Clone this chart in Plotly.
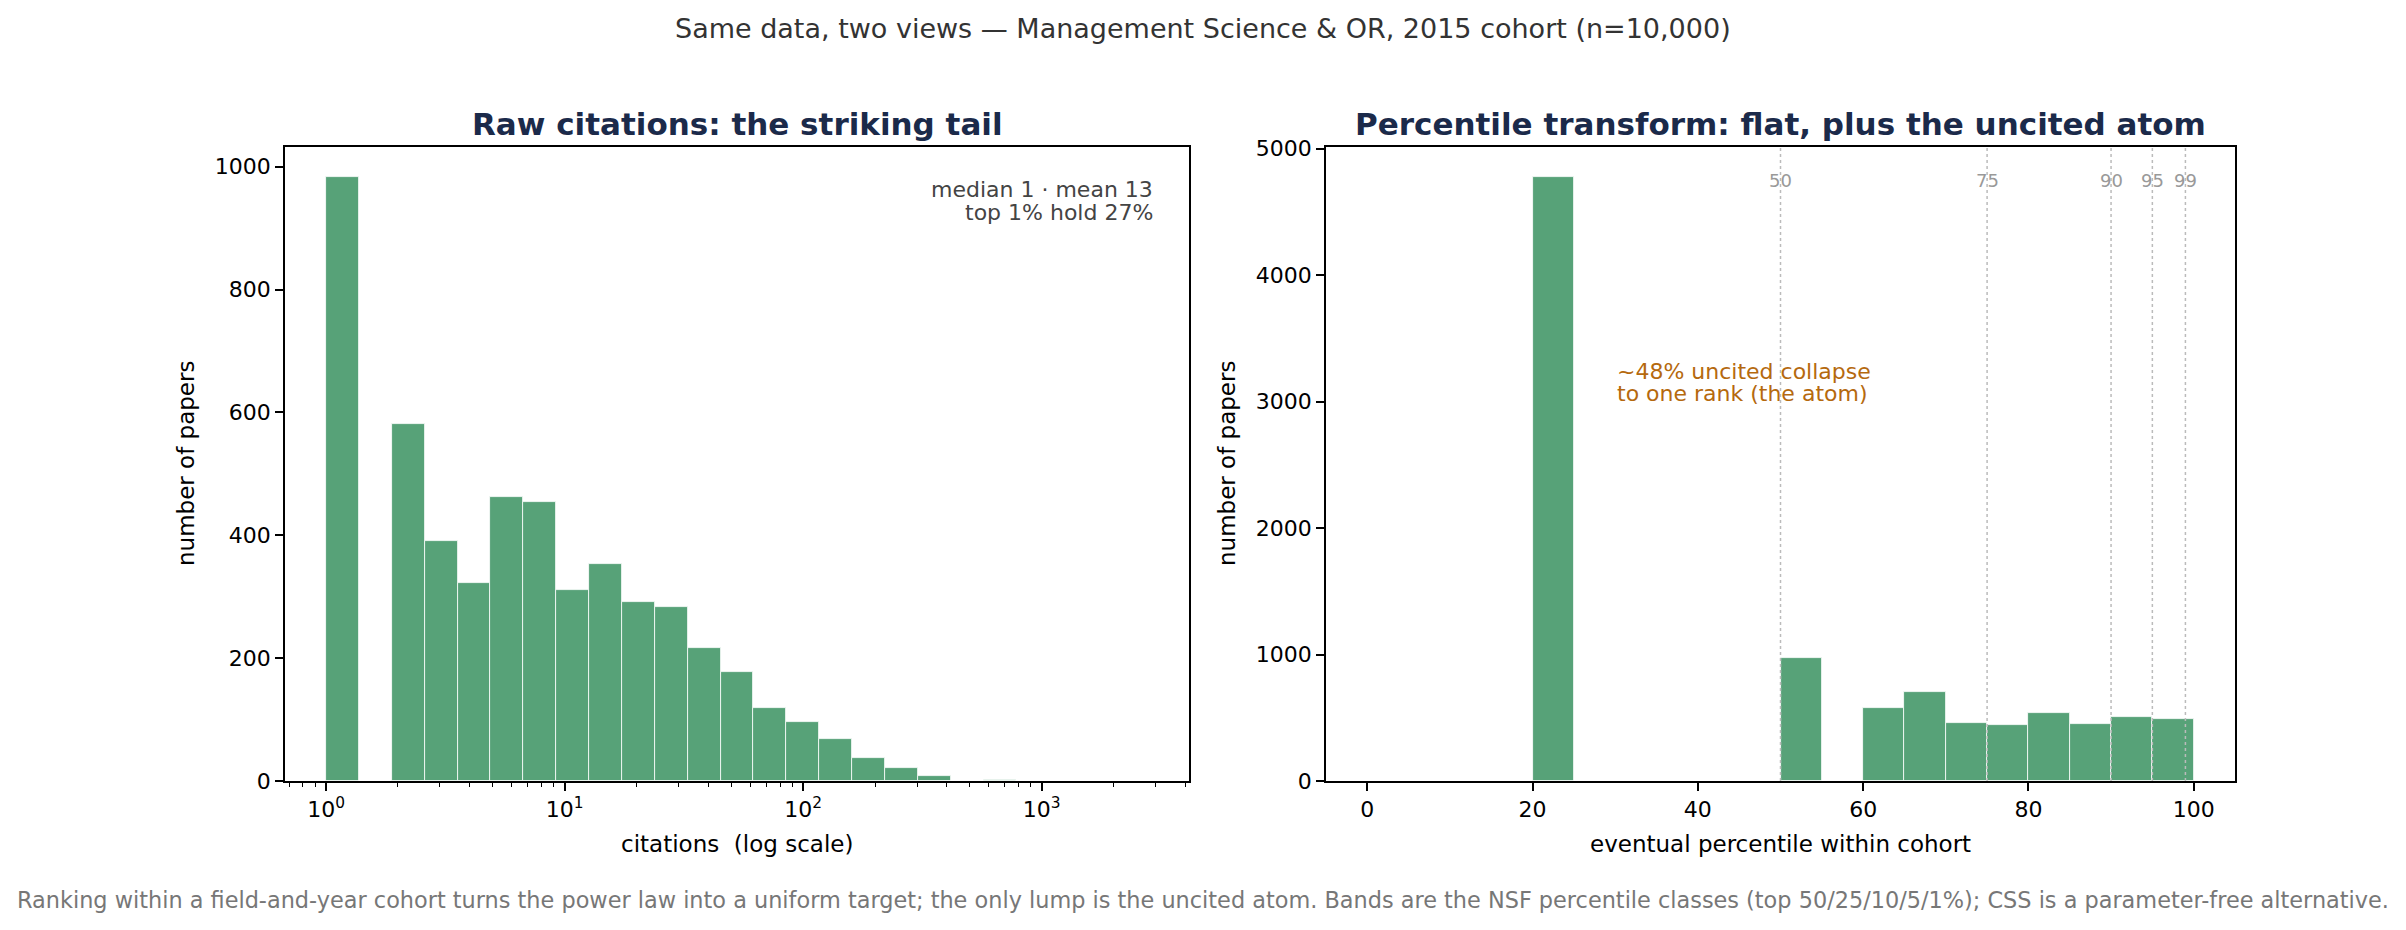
import numpy as np
import plotly.graph_objects as go

# ---------------- data ----------------
# left: citation histogram, 25 log-spaced bins from 1 to max citations
max_citations = 2786
n_log_bins = 25
raw_counts = [983, 0, 581, 390, 323, 462, 454, 311, 354, 292, 284, 217, 177,
              119, 96, 68, 37, 21, 8, 0, 2, 0, 0, 0, 0]

# right: percentile histogram, bins of 5 percentile points
pct_bin_edges = list(range(0, 105, 5))
pct_counts = [0, 0, 0, 0, 4775, 0, 0, 0, 0, 0, 975, 0, 577, 704, 457, 441,
              537, 451, 507, 491]

band_percentiles = [50, 75, 90, 95, 99]
band_labels = ["50", "75", "90", "95", "99"]

left_major_ticks = [0, 1, 2, 3]
left_major_labels = ["10<sup>0</sup>", "10<sup>1</sup>", "10<sup>2</sup>", "10<sup>3</sup>"]

suptitle = "Same data, two views — Management Science & OR, 2015 cohort (n=10,000)"
left_title = "Raw citations: the striking tail"
right_title = "Percentile transform: flat, plus the uncited atom"
left_note_lines = ["median 1 · mean 13", "top 1% hold 27%"]
right_note_lines = ["~48% uncited collapse", "to one rank (the atom)"]
footer = ("Ranking within a field-and-year cohort turns the power law into a uniform target; "
          "the only lump is the uncited atom. Bands are the NSF percentile classes "
          "(top 50/25/10/5/1%); CSS is a parameter-free alternative.")

# ---------------- derived ----------------
log_edges = np.linspace(0, np.log10(max_citations), n_log_bins + 1)
log_centers = (log_edges[:-1] + log_edges[1:]) / 2
log_widths = np.diff(log_edges)
pe = np.array(pct_bin_edges, dtype=float)
pct_centers = (pe[:-1] + pe[1:]) / 2
pct_widths = np.diff(pe)

span = log_edges[-1]
left_range = [-0.05 * span, span * 1.05]

minor_vals = []
for dec in range(-1, 4):
    for m in range(2, 10):
        v = dec + np.log10(m)
        if left_range[0] <= v <= left_range[1]:
            minor_vals.append(v)

W, H = 2406, 930
def px(x):
    return x / W
def py(y):
    return 1 - y / H

ax_top, ax_bot = 147, 781
L0, L1 = 285, 1189
R0, R1 = 1326, 2235

FONT = "DejaVu Sans"
BAR = "#57a278"

fig = go.Figure()
fig.add_trace(go.Bar(x=log_centers, y=raw_counts, width=log_widths,
                     marker=dict(color=BAR, line=dict(color="white", width=0.8)),
                     xaxis="x", yaxis="y", showlegend=False))
fig.add_trace(go.Bar(x=pct_centers, y=pct_counts, width=pct_widths,
                     marker=dict(color=BAR, line=dict(color="white", width=0.8)),
                     xaxis="x2", yaxis="y2", showlegend=False))

axis_common = dict(showline=True, linecolor="black", linewidth=1.8, mirror=True,
                   ticks="outside", ticklen=8, tickwidth=1.8, tickcolor="black",
                   showgrid=False, zeroline=False, automargin=False,
                   tickfont=dict(family=FONT, size=22, color="black"))

fig.update_layout(
    width=W, height=H, margin=dict(l=0, r=0, t=0, b=0),
    paper_bgcolor="white", plot_bgcolor="white",
    font=dict(family=FONT),
    bargap=0,
    xaxis=dict(domain=[px(L0), px(L1)], range=left_range, anchor="y",
               tickmode="array", tickvals=left_major_ticks, ticktext=left_major_labels,
               minor=dict(tickmode="array", tickvals=minor_vals, ticks="outside",
                          ticklen=4.5, tickwidth=1.3, tickcolor="black", showgrid=False),
               **axis_common),
    yaxis=dict(domain=[py(ax_bot), py(ax_top)], range=[0, 983 * 1.05], anchor="x",
               tickmode="array", tickvals=[0, 200, 400, 600, 800, 1000], **axis_common),
    xaxis2=dict(domain=[px(R0), px(R1)], range=[-5, 105], anchor="y2",
                tickmode="array", tickvals=[0, 20, 40, 60, 80, 100], **axis_common),
    yaxis2=dict(domain=[py(ax_bot), py(ax_top)], range=[0, max(pct_counts) * 1.05], anchor="x2",
                tickmode="array", tickvals=[0, 1000, 2000, 3000, 4000, 5000], **axis_common),
)

# band lines and labels
for p, lab in zip(band_percentiles, band_labels):
    fig.add_shape(type="line", xref="x2", yref="y2 domain", x0=p, x1=p, y0=0, y1=1,
                  line=dict(color="#bbbbbb", width=1.5, dash="dot"), layer="above")
    fig.add_annotation(xref="x2", yref="y2", x=p, y=4750, text=lab, showarrow=False,
                       xanchor="center", yanchor="middle",
                       font=dict(family=FONT, size=18, color="#999999"))

annots = [
    dict(x=px((L0 + L1) / 2), y=py(124), text="<b>" + left_title + "</b>",
         font=dict(family=FONT, size=31, color="#1b2a4a"), xanchor="center", yanchor="middle"),
    dict(x=px((R0 + R1) / 2), y=py(124), text="<b>" + right_title + "</b>",
         font=dict(family=FONT, size=31, color="#1b2a4a"), xanchor="center", yanchor="middle"),
    dict(x=px(W / 2), y=py(28), text=suptitle,
         font=dict(family=FONT, size=27, color="#333333"), xanchor="center", yanchor="middle"),
    dict(x=px(W / 2), y=py(900), text=footer,
         font=dict(family=FONT, size=22.4, color="#777777"), xanchor="center", yanchor="middle"),
    dict(x=px(186), y=py((ax_top + ax_bot) / 2), text="number of papers", textangle=-90,
         font=dict(family=FONT, size=23, color="black"), xanchor="center", yanchor="middle"),
    dict(x=px(1227), y=py((ax_top + ax_bot) / 2), text="number of papers", textangle=-90,
         font=dict(family=FONT, size=23, color="black"), xanchor="center", yanchor="middle"),
    dict(x=px((L0 + L1) / 2), y=py(844), text="citations  (log scale)",
         font=dict(family=FONT, size=23, color="black"), xanchor="center", yanchor="middle"),
    dict(x=px((R0 + R1) / 2), y=py(844), text="eventual percentile within cohort",
         font=dict(family=FONT, size=23, color="black"), xanchor="center", yanchor="middle"),
]
for i, line in enumerate(left_note_lines):
    annots.append(dict(x=px(1155), y=py(189 + 23 * i), text=line,
                       font=dict(family=FONT, size=22, color="#444444"),
                       xanchor="right", yanchor="middle"))
for i, line in enumerate(right_note_lines):
    annots.append(dict(x=px(1367 + 30 * 8.28), y=py(371 + 23 * i), text=line,
                       font=dict(family=FONT, size=22, color="#b5690e"),
                       xanchor="left", yanchor="middle"))
for a in annots:
    fig.add_annotation(xref="paper", yref="paper", showarrow=False, **a)

fig.write_html("out.html")
